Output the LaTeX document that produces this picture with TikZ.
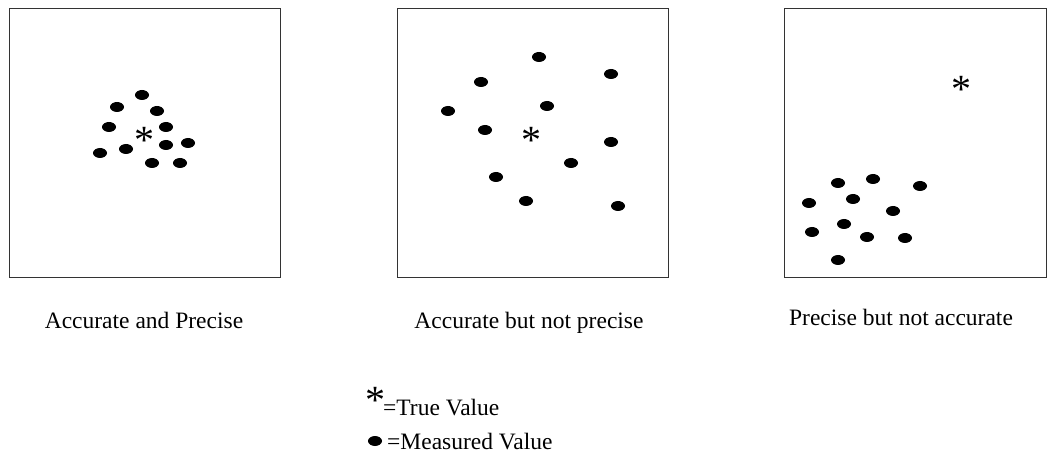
\documentclass[tikz,border=0pt]{standalone}
\usepackage{fontspec}
\setmainfont{Liberation Serif}
\usepackage{tikz}
\usetikzlibrary{shapes.geometric, positioning}

\tikzset{
  panel/.style={draw=black!80, line width=1pt},
  dot/.style={ellipse, fill=black, inner sep=0pt, minimum width=14pt, minimum height=10pt},
  truemark/.style={inner sep=0pt, anchor=base, font=\fontsize{40}{40}\selectfont},
  caption/.style={inner sep=0pt, anchor=base, font=\fontsize{23.5}{25}\selectfont},
  legendtext/.style={inner sep=0pt, anchor=base west, font=\fontsize{23.5}{25}\selectfont}
}

\begin{document}
\begin{tikzpicture}[x=1pt, y=-1pt]
          \useasboundingbox (0,0) rectangle (1047,454);

          % the three panels
          \draw[panel] (9,9) rectangle (280,278);
          \draw[panel] (397,9) rectangle (668,278);
          \draw[panel] (784,9) rectangle (1046,278);

          % accurate and precise
          \node[truemark] (t1) at (144,154) {*};
          \node[dot] (a1) at (142,95) {};
          \node[dot] (a2) at (117,107) {};
          \node[dot] (a3) at (157,111) {};
          \node[dot] (a4) at (109,127) {};
          \node[dot] (a5) at (166,127) {};
          \node[dot] (a6) at (100,153) {};
          \node[dot] (a7) at (126,149) {};
          \node[dot] (a8) at (166,145) {};
          \node[dot] (a9) at (188,143) {};
          \node[dot] (a10) at (152,163) {};
          \node[dot] (a11) at (180,163) {};

          % accurate but not precise
          \node[truemark] (t2) at (531,154) {*};
          \node[dot] (b1) at (539,57) {};
          \node[dot] (b2) at (611,74) {};
          \node[dot] (b3) at (481,82) {};
          \node[dot] (b4) at (448,111) {};
          \node[dot] (b5) at (547,106) {};
          \node[dot] (b6) at (485,130) {};
          \node[dot] (b7) at (611,142) {};
          \node[dot] (b8) at (571,163) {};
          \node[dot] (b9) at (496,177) {};
          \node[dot] (b10) at (526,201) {};
          \node[dot] (b11) at (618,206) {};

          % precise but not accurate
          \node[truemark] (t3) at (961,103) {*};
          \node[dot] (c1) at (838,183) {};
          \node[dot] (c2) at (873,179) {};
          \node[dot] (c3) at (920,186) {};
          \node[dot] (c4) at (809,203) {};
          \node[dot] (c5) at (853,199) {};
          \node[dot] (c6) at (893,211) {};
          \node[dot] (c7) at (812,232) {};
          \node[dot] (c8) at (844,224) {};
          \node[dot] (c9) at (867,237) {};
          \node[dot] (c10) at (905,238) {};
          \node[dot] (c11) at (838,260) {};

          % captions
          \node[caption] (cap1) at (144,329) {Accurate and Precise};
          \node[caption] (cap2) at (529,329) {Accurate but not precise};
          \node[caption] (cap3) at (901,326) {Precise but not accurate};

          % legend
          \node[truemark] (keystar) at (375,413) {*};
          \node[legendtext] (keytrue) at (383,415) {=True Value};
          \node[dot] (keydot) at (375,441) {};
          \node[legendtext] (keymeas) at (387,449) {=Measured Value};
        \end{tikzpicture}
\end{document}
